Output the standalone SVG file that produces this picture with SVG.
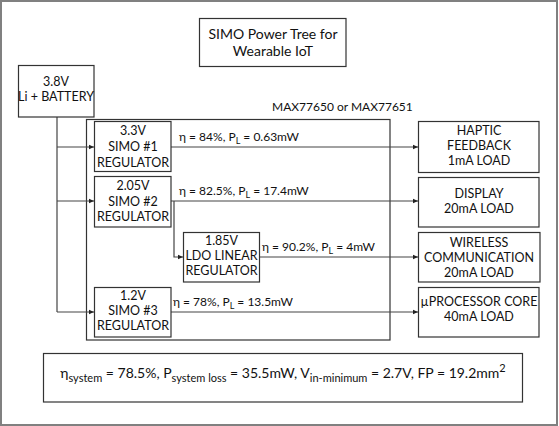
<svg xmlns="http://www.w3.org/2000/svg" width="559" height="426" viewBox="0 0 559 426">
<style>
.box{fill:#fff;stroke:#333;stroke-width:1.2}
.t{font-family:Lato,"Noto Sans",sans-serif;font-size:12.5px;fill:#111;text-anchor:middle}
.l{font-family:Lato,"Noto Sans",sans-serif;font-size:12px;fill:#111}
.c{fill:none;stroke:#444;stroke-width:1.2}
.s{font-size:9px}
</style>
<defs>
<marker id="ah" markerUnits="userSpaceOnUse" markerWidth="6" markerHeight="6" refX="5" refY="3" orient="auto">
<path d="M0,0.8 L5,3 L0,5.2 Z" fill="#222"/>
</marker>
</defs>
<rect x="1" y="1" width="556" height="424" fill="#fff" stroke="#808080" stroke-width="2"/>

<g id="container">
<rect x="86.5" y="119.5" width="303.5" height="220.5" class="box"/>
<text x="272" y="111" class="l">MAX77650 or MAX77651</text>
</g>

<g id="connectors">
<path class="c" d="M57,117 V312"/>
<path class="c" d="M57,147 H94" marker-end="url(#ah)"/>
<path class="c" d="M57,201 H94" marker-end="url(#ah)"/>
<path class="c" d="M57,312 H94" marker-end="url(#ah)"/>
<path class="c" d="M171,147 H418" marker-end="url(#ah)"/>
<path class="c" d="M171,201 H418" marker-end="url(#ah)"/>
<path class="c" d="M174,201 V257 H183" marker-end="url(#ah)"/>
<path class="c" d="M259,257 H418" marker-end="url(#ah)"/>
<path class="c" d="M171,312 H418" marker-end="url(#ah)"/>
<text x="179" y="141" class="l">η = 84%, P<tspan class="s" dy="3">L</tspan><tspan dy="-3"> = 0.63mW</tspan></text>
<text x="179" y="195" class="l">η = 82.5%, P<tspan class="s" dy="3">L</tspan><tspan dy="-3"> = 17.4mW</tspan></text>
<text x="262" y="251" class="l">η = 90.2%, P<tspan class="s" dy="3">L</tspan><tspan dy="-3"> = 4mW</tspan></text>
<text x="173" y="306" class="l">η = 78%, P<tspan class="s" dy="3">L</tspan><tspan dy="-3"> = 13.5mW</tspan></text>
</g>

<g id="title">
<rect x="199.5" y="18.5" width="146.5" height="48" class="box"/>
<text x="273" y="39" class="t" style="font-size:14px">SIMO Power Tree for</text>
<text x="273" y="56" class="t" style="font-size:14px">Wearable IoT</text>
</g>

<g id="battery">
<rect x="18.5" y="65.5" width="75.5" height="51.5" class="box"/>
<text x="56" y="86" class="t">3.8V</text>
<text x="56" y="101" class="t">Li + BATTERY</text>
</g>

<g id="simo1">
<rect x="94.5" y="121.5" width="76.5" height="50" class="box"/>
<text x="133" y="135" class="t">3.3V</text>
<text x="133" y="151" class="t">SIMO #1</text>
<text x="133" y="167" class="t">REGULATOR</text>
</g>

<g id="simo2">
<rect x="94.5" y="176.5" width="76.5" height="50.5" class="box"/>
<text x="133" y="190" class="t">2.05V</text>
<text x="133" y="206" class="t">SIMO #2</text>
<text x="133" y="221" class="t">REGULATOR</text>
</g>

<g id="ldo">
<rect x="183.5" y="232.5" width="76" height="49.5" class="box"/>
<text x="221.5" y="245" class="t">1.85V</text>
<text x="221.5" y="260" class="t">LDO LINEAR</text>
<text x="221.5" y="275" class="t">REGULATOR</text>
</g>

<g id="simo3">
<rect x="94.5" y="287.5" width="76.5" height="49.5" class="box"/>
<text x="133" y="300" class="t">1.2V</text>
<text x="133" y="315" class="t">SIMO #3</text>
<text x="133" y="330" class="t">REGULATOR</text>
</g>

<g id="haptic">
<rect x="418.5" y="121.5" width="120.5" height="51" class="box"/>
<text x="479" y="135" class="t">HAPTIC</text>
<text x="479" y="150" class="t">FEEDBACK</text>
<text x="479" y="165" class="t">1mA LOAD</text>
</g>

<g id="display">
<rect x="418.5" y="177.5" width="120.5" height="49.5" class="box"/>
<text x="479" y="198" class="t">DISPLAY</text>
<text x="479" y="213" class="t">20mA LOAD</text>
</g>

<g id="wireless">
<rect x="418.5" y="232.5" width="121.5" height="49.5" class="box"/>
<text x="479" y="247" class="t">WIRELESS</text>
<text x="479" y="262" class="t">COMMUNICATION</text>
<text x="479" y="277" class="t">20mA LOAD</text>
</g>

<g id="processor">
<rect x="418.5" y="287.5" width="120.5" height="49.5" class="box"/>
<text x="479" y="306" class="t">µPROCESSOR CORE</text>
<text x="479" y="321" class="t">40mA LOAD</text>
</g>

<g id="summary">
<rect x="43.5" y="353.5" width="479" height="48.5" class="box"/>
<text x="283" y="378" class="t" style="font-size:14px">η<tspan style="font-size:11px" dy="4">system</tspan><tspan dy="-4"> = 78.5%, P</tspan><tspan style="font-size:11px" dy="4">system loss</tspan><tspan dy="-4"> = 35.5mW, V</tspan><tspan style="font-size:11px" dy="4">in-minimum</tspan><tspan dy="-4"> = 2.7V, FP = 19.2mm</tspan><tspan style="font-size:11px" dy="-6">2</tspan></text>
</g>
</svg>
